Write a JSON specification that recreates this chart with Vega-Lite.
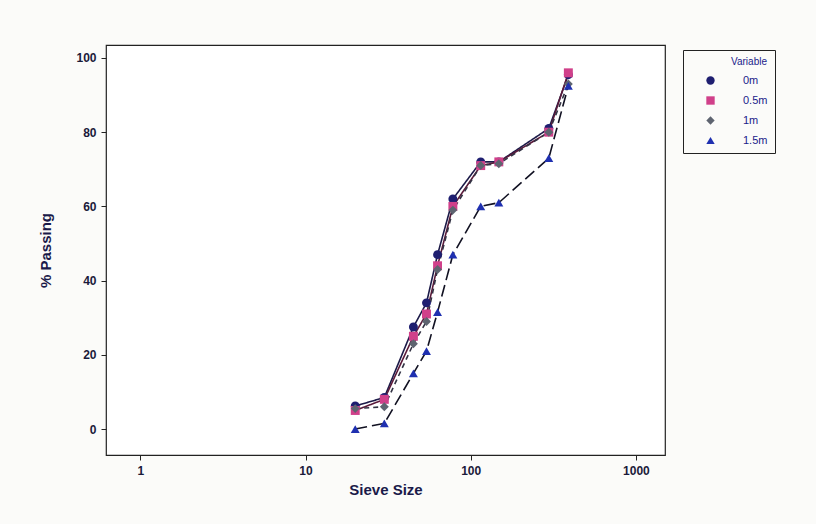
{
  "$schema": "https://vega.github.io/schema/vega-lite/v6.json",
  "autosize": "none",
  "width": 559,
  "height": 410,
  "padding": {"left": 106, "top": 45, "right": 151, "bottom": 69},
  "background": "#fbfbf9",
  "config": {
    "font": "Liberation Sans",
    "view": {"stroke": "#222", "strokeWidth": 1.2, "fill": "white"},
    "axis": {"grid": false, "domain": false, "tickColor": "#222", "tickSize": 5, "labelColor": "#1a1a3a", "labelFontSize": 12, "labelFontWeight": "bold", "titleColor": "#1a1a4a", "titleFontSize": 15, "titleFontWeight": "bold"}
  },
  "data": {"values": [
    {"Variable": "0m", "size": 20, "pass": 6.2},
    {"Variable": "0m", "size": 30, "pass": 8.5},
    {"Variable": "0m", "size": 45, "pass": 27.5},
    {"Variable": "0m", "size": 54, "pass": 34},
    {"Variable": "0m", "size": 63, "pass": 47},
    {"Variable": "0m", "size": 78, "pass": 62},
    {"Variable": "0m", "size": 115, "pass": 72},
    {"Variable": "0m", "size": 148, "pass": 72},
    {"Variable": "0m", "size": 297, "pass": 81},
    {"Variable": "0m", "size": 390, "pass": 95.5},
    {"Variable": "0.5m", "size": 20, "pass": 5},
    {"Variable": "0.5m", "size": 30, "pass": 8},
    {"Variable": "0.5m", "size": 45, "pass": 25},
    {"Variable": "0.5m", "size": 54, "pass": 31},
    {"Variable": "0.5m", "size": 63, "pass": 44},
    {"Variable": "0.5m", "size": 78, "pass": 60},
    {"Variable": "0.5m", "size": 115, "pass": 71},
    {"Variable": "0.5m", "size": 148, "pass": 72},
    {"Variable": "0.5m", "size": 297, "pass": 80},
    {"Variable": "0.5m", "size": 390, "pass": 96},
    {"Variable": "1m", "size": 20, "pass": 5.5},
    {"Variable": "1m", "size": 30, "pass": 6},
    {"Variable": "1m", "size": 45, "pass": 23},
    {"Variable": "1m", "size": 54, "pass": 29},
    {"Variable": "1m", "size": 63, "pass": 43},
    {"Variable": "1m", "size": 78, "pass": 59},
    {"Variable": "1m", "size": 115, "pass": 71},
    {"Variable": "1m", "size": 148, "pass": 71.5},
    {"Variable": "1m", "size": 297, "pass": 80},
    {"Variable": "1m", "size": 390, "pass": 93},
    {"Variable": "1.5m", "size": 20, "pass": 0},
    {"Variable": "1.5m", "size": 30, "pass": 1.5},
    {"Variable": "1.5m", "size": 45, "pass": 15},
    {"Variable": "1.5m", "size": 54, "pass": 21},
    {"Variable": "1.5m", "size": 63, "pass": 31.5},
    {"Variable": "1.5m", "size": 78, "pass": 47},
    {"Variable": "1.5m", "size": 115, "pass": 60},
    {"Variable": "1.5m", "size": 148, "pass": 61},
    {"Variable": "1.5m", "size": 297, "pass": 73},
    {"Variable": "1.5m", "size": 390, "pass": 92.5}
  ]},
  "encoding": {
    "x": {"field": "size", "type": "quantitative", "title": "Sieve Size",
      "scale": {"type": "log", "domain": [0.62, 1500], "nice": false},
      "axis": {"values": [1, 10, 100, 1000], "format": "d", "labelPadding": 5, "titlePadding": 6}},
    "y": {"field": "pass", "type": "quantitative", "title": "% Passing",
      "scale": {"domain": [-7, 103.5], "nice": false, "zero": false},
      "axis": {"values": [0, 20, 40, 60, 80, 100], "labelPadding": 5, "titlePadding": 22}}
  },
  "layer": [
    {
      "mark": {"type": "line", "strokeWidth": 1.6},
      "encoding": {
        "stroke": {"field": "Variable", "type": "nominal", "legend": null,
          "scale": {"domain": ["0m", "0.5m", "1m", "1.5m"], "range": ["#1c1a48", "#5a1a3a", "#333344", "#111122"]}},
        "strokeDash": {"field": "Variable", "type": "nominal", "legend": null,
          "scale": {"domain": ["0m", "0.5m", "1m", "1.5m"], "range": [[1, 0], [1, 0], [5, 4], [12, 5]]}}
      }
    },
    {
      "mark": {"type": "point", "filled": true, "size": 80, "opacity": 1},
      "encoding": {
        "color": {"field": "Variable", "type": "nominal",
          "scale": {"domain": ["0m", "0.5m", "1m", "1.5m"], "range": ["#1e1e70", "#d0408a", "#5e6470", "#1f30b0"]},
          "legend": {"orient": "none", "legendX": 577, "legendY": 5, "title": "Variable", "titleFontSize": 10, "titleFontWeight": "normal", "titleColor": "#1a1a8a", "titleAnchor": "end", "titlePadding": 8, "labelFontSize": 11, "labelColor": "#1a1a8a", "labelExpr": "datum.label + '       '", "strokeColor": "#222", "padding": 7, "symbolSize": 70, "rowPadding": 8, "labelOffset": 27, "symbolOffset": 15}},
        "shape": {"field": "Variable", "type": "nominal",
          "scale": {"domain": ["0m", "0.5m", "1m", "1.5m"], "range": ["circle", "square", "diamond", "triangle-up"]}}
      }
    }
  ],
  "resolve": {"legend": {"color": "independent", "shape": "independent", "stroke": "independent", "strokeDash": "independent"}}
}
